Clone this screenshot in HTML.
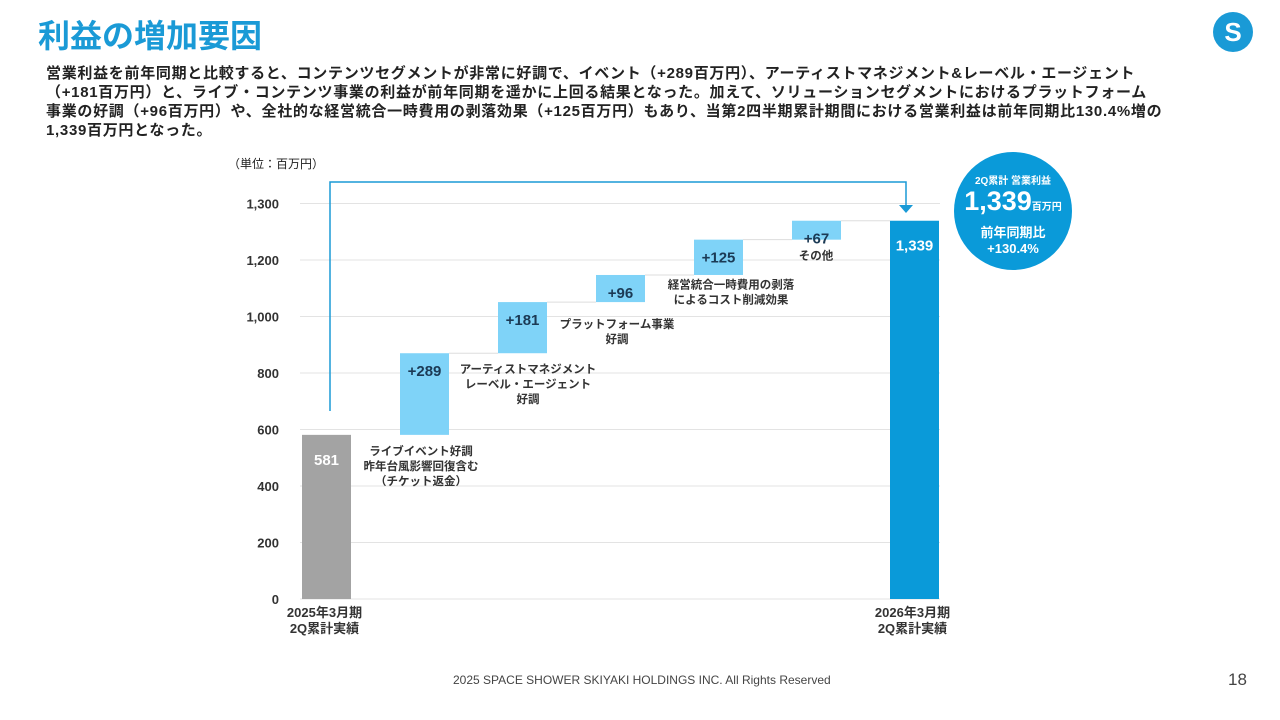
<!DOCTYPE html>
<html><head><meta charset="utf-8"><style>
body{margin:0;width:1280px;height:720px;background:#fff;font-family:"Liberation Sans","Noto Sans CJK JP",sans-serif;position:relative;overflow:hidden;color:#222}
.t{position:absolute;white-space:nowrap}
</style></head><body>
<div class="t" style="left:38px;top:11px;font-size:32px;font-weight:bold;color:#1a9ad6">利益の増加要因</div>
<svg style="position:absolute;left:1213px;top:12px" width="40" height="40"><circle cx="20" cy="20" r="20" fill="#1a9ad6"/><text x="20" y="29" text-anchor="middle" font-size="26" font-weight="bold" fill="#fff" font-family="Liberation Sans">S</text></svg>
<div class="t" style="left:46px;top:64px;font-size:15px;letter-spacing:0.7px;font-weight:bold;line-height:19px">営業利益を前年同期と比較すると、コンテンツセグメントが非常に好調で、イベント（+289百万円）、アーティストマネジメント&amp;レーベル・エージェント<br>（+181百万円）と、ライブ・コンテンツ事業の利益が前年同期を遥かに上回る結果となった。加えて、ソリューションセグメントにおけるプラットフォーム<br>事業の好調（+96百万円）や、全社的な経営統合一時費用の剥落効果（+125百万円）もあり、当第2四半期累計期間における営業利益は前年同期比130.4%増の<br>1,339百万円となった。</div>
<div class="t" style="left:228px;top:155px;font-size:12px">（単位：百万円）</div>
<svg id="c" style="position:absolute;left:0;top:0" width="1280" height="720"></svg>
<div style="position:absolute;left:954px;top:152px;width:118px;height:118px;border-radius:50%;background:#0a9ad9;color:#fff;text-align:center;font-weight:bold">
<div style="font-size:10px;margin-top:20px">2Q累計 営業利益</div>
<div style="font-size:27px;line-height:28px">1,339<span style="font-size:10px">百万円</span></div>
<div style="font-size:13px;line-height:16px;margin-top:3px">前年同期比<br>+130.4%</div></div>
<div class="t" style="left:453px;top:673px;font-size:12px;color:#444">2025 SPACE SHOWER SKIYAKI HOLDINGS INC. All Rights Reserved</div>
<div class="t" style="left:1228px;top:670px;font-size:17px;color:#444">18</div>
<script>
const tickValues=[0,200,400,600,800,1000,1200,1400];
const tickLabels=["0","200","400","600","800","1,000","1,200","1,300"];
const steps=["start","+289","+181","+96","+125","+67","end"];
const values=[581,289,181,96,125,67,1339];
const notes=[["ライブイベント好調","昨年台風影響回復含む","（チケット返金）"],["アーティストマネジメント","レーベル・エージェント","好調"],["プラットフォーム事業","好調"],[],["経営統合一時費用の剥落","によるコスト削減効果"],["その他"],[]];
const noteDx=[119,128,119,0,37,24,0];
const noteDy=[20,20,26,0,49,39,0];
const svg=document.getElementById('c'),NS='http://www.w3.org/2000/svg';
const y0=599,k=0.2825,x0=302,step=98,bw=49;
const Y=v=>y0-v*k, X=i=>x0+i*step;
function el(t,a,txt){const e=document.createElementNS(NS,t);for(const q in a)e.setAttribute(q,a[q]);if(txt!=null)e.textContent=txt;svg.appendChild(e);return e;}
tickValues.forEach((v,i)=>{
const g=el('line',{x1:300,x2:940,y1:Y(v),y2:Y(v),stroke:'#e3e3e3'});


const t=el('text',{x:279,y:Y(v)+5,'text-anchor':'end','font-size':13,'font-weight':'bold',fill:'#333'},tickLabels[i]);


});
let cum=0;
values.forEach((v,i)=>{
let lo,hi,fill;
if(i==0){lo=0;hi=v;fill='#a3a3a3';cum=v;}
else if(i==values.length-1){lo=0;hi=v;fill='#0a9ad9';}
else{lo=cum;hi=cum+v;cum=hi;fill='#7fd3f8';}
const r=el('rect',{x:X(i),y:Y(hi),width:bw,height:Y(lo)-Y(hi),fill});


if(i>0&&i<values.length-1){const c=el('line',{x1:X(i)+bw,x2:X(i+1),y1:Y(hi),y2:Y(hi),stroke:'#ddd'});

}
const ends=(i==0||i==values.length-1);
const lab=ends?values[i].toLocaleString('en-US'):steps[i];
const t=el('text',{x:X(i)+bw/2,y:Y(hi)+(ends?30:23),'text-anchor':'middle','font-size':15,'font-weight':'bold',fill:ends?'#fff':'#1b3a55'},lab);


notes[i].forEach((s,j)=>{
const n=el('text',{x:X(i)+noteDx[i],y:Y(hi)+noteDy[i]+j*15,'text-anchor':'middle','font-size':11.5,'font-weight':'bold',fill:'#333'},s);


});
});
const ar=el('polyline',{points:`330,411 330,182 906,182 906,206`,fill:'none',stroke:'#1a9ad6','stroke-width':1.5});


const ah=el('polygon',{points:'899,205 913,205 906,213',fill:'#1a9ad6'});


[["2025年3月期","2Q累計実績",0],["2026年3月期","2Q累計実績",6]].forEach(a=>{
[a[0],a[1]].forEach((s,j)=>{const t=el('text',{x:X(a[2])+bw/2-2,y:617+j*16,'text-anchor':'middle','font-size':13,'font-weight':'bold',fill:'#333'},s);

});
});
</script>
</body></html>
